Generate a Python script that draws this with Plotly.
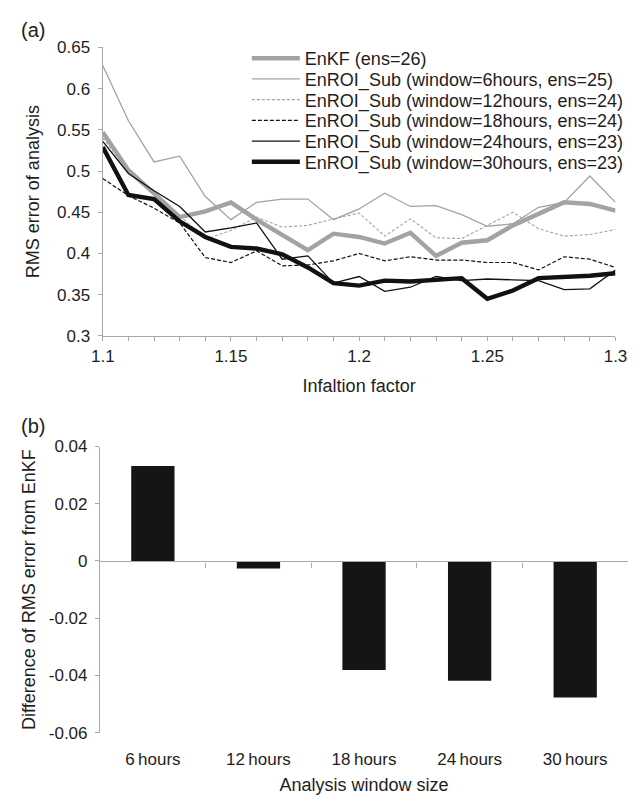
import plotly.graph_objects as go

# Inflation factors on the x axis of panel (a)
inflation = [1.10, 1.11, 1.12, 1.13, 1.14, 1.15, 1.16, 1.17, 1.18, 1.19, 1.20,
             1.21, 1.22, 1.23, 1.24, 1.25, 1.26, 1.27, 1.28, 1.29, 1.30]

# RMS error of analysis per experiment
enkf_26 = [0.547, 0.501, 0.473, 0.444, 0.451, 0.462, 0.441, 0.423, 0.404, 0.424, 0.420,
           0.412, 0.425, 0.397, 0.413, 0.416, 0.434, 0.448, 0.462, 0.460, 0.452]
sub_6h = [0.628, 0.561, 0.511, 0.518, 0.469, 0.441, 0.462, 0.466, 0.466, 0.441, 0.454,
          0.473, 0.457, 0.458, 0.447, 0.433, 0.436, 0.456, 0.462, 0.494, 0.462]
sub_12h = [0.540, 0.500, 0.472, 0.446, 0.417, 0.428, 0.444, 0.432, 0.434, 0.442, 0.449,
           0.421, 0.442, 0.419, 0.418, 0.434, 0.450, 0.430, 0.421, 0.423, 0.429]
sub_18h = [0.491, 0.470, 0.455, 0.437, 0.395, 0.389, 0.403, 0.385, 0.386, 0.391, 0.400,
           0.391, 0.396, 0.392, 0.392, 0.389, 0.389, 0.380, 0.396, 0.393, 0.383]
sub_24h = [0.536, 0.497, 0.476, 0.457, 0.426, 0.431, 0.437, 0.393, 0.397, 0.364, 0.372,
           0.354, 0.359, 0.372, 0.367, 0.369, 0.368, 0.367, 0.356, 0.357, 0.380]
sub_30h = [0.529, 0.471, 0.466, 0.439, 0.420, 0.408, 0.406, 0.399, 0.383, 0.364, 0.361,
           0.367, 0.366, 0.368, 0.370, 0.345, 0.355, 0.370, 0.371, 0.373, 0.376]

series_names = ["EnKF (ens=26)",
                "EnROI_Sub (window=6hours, ens=25)",
                "EnROI_Sub (window=12hours, ens=24)",
                "EnROI_Sub (window=18hours, ens=24)",
                "EnROI_Sub (window=24hours, ens=23)",
                "EnROI_Sub (window=30hours, ens=23)"]

# Panel (a) tick labels
x_tickvals = [1.10, 1.15, 1.20, 1.25, 1.30]
x_ticktext = ["1.1", "1.15", "1.2", "1.25", "1.3"]
y_tickvals = [0.30, 0.35, 0.40, 0.45, 0.50, 0.55, 0.60, 0.65]
y_ticktext = ["0.3", "0.35", "0.4", "0.45", "0.5", "0.55", "0.6", "0.65"]

# Panel (b): difference of RMS error from EnKF per analysis window
windows = ["6\u2009hours", "12\u2009hours", "18\u2009hours", "24\u2009hours", "30\u2009hours"]
rms_diff = [0.0332, -0.0026, -0.0381, -0.0419, -0.0477]
b_tickvals = [-0.06, -0.04, -0.02, 0.0, 0.02, 0.04]
b_ticktext = ["-0.06", "-0.04", "-0.02", "0", "0.02", "0.04"]

FONT = "Liberation Sans, Arial, Helvetica, sans-serif"
TXT = "#1e1e1e"
AX = "#a8a8a8"
GRAY = "#a3a3a3"
BLACK = "#111111"

W, H = 640, 812


def px_x(p):
    return p / W


def px_y(p):
    return 1 - p / H


styles = [
    dict(color=GRAY, width=4.4, dash="solid"),
    dict(color=GRAY, width=1.3, dash="solid"),
    dict(color=GRAY, width=1.1, dash="3px,2px"),
    dict(color=BLACK, width=1.2, dash="4px,2px"),
    dict(color=BLACK, width=1.3, dash="solid"),
    dict(color=BLACK, width=4.4, dash="solid"),
]
all_series = [enkf_26, sub_6h, sub_12h, sub_18h, sub_24h, sub_30h]
legend_ids = ["legend", "legend2", "legend3", "legend4", "legend5", "legend6"]

fig = go.Figure()
for name, vals, st, lg in zip(series_names, all_series, styles, legend_ids):
    fig.add_trace(go.Scatter(x=inflation, y=vals, name=name, mode="lines",
                             line=st, xaxis="x", yaxis="y", legend=lg))

cat_pos = list(range(len(windows)))
fig.add_trace(go.Bar(x=cat_pos, y=rms_diff, width=0.41, marker_color="#151515",
                     marker_line_width=0, showlegend=False,
                     xaxis="x2", yaxis="y2"))
# carrier for the zero-line axis with category-boundary ticks
fig.add_trace(go.Scatter(x=[], y=[], showlegend=False, hoverinfo="skip",
                         xaxis="x3", yaxis="y2"))

tick_font = dict(family=FONT, size=17, color=TXT)
title_font = dict(family=FONT, size=18, color=TXT)

# one legend box per row so the rows sit on a tight 21 px pitch
legend_boxes = {}
for i, lg in enumerate(legend_ids):
    legend_boxes[lg] = dict(x=px_x(244), y=px_y(50.7 + 21.2 * i),
                            xanchor="left", yanchor="middle",
                            bgcolor="rgba(0,0,0,0)", borderwidth=0,
                            font=dict(family=FONT, size=18, color=TXT),
                            itemwidth=48)

fig.update_layout(
    width=W, height=H,
    margin=dict(l=0, r=0, t=0, b=0),
    paper_bgcolor="white", plot_bgcolor="white",
    font=dict(family=FONT, size=16, color=TXT),
    showlegend=True,
    **legend_boxes,
    xaxis=dict(domain=[px_x(94.3), px_x(627)], range=[1.1, 1.3],
               tickvals=x_tickvals, ticktext=x_ticktext, ticks="outside",
               ticklen=4, tickcolor=AX, tickwidth=1, showline=True, linecolor=AX,
               linewidth=1.3, showgrid=False, zeroline=False, tickfont=tick_font,
               ticklabelstandoff=1,
               minor=dict(dtick=0.01, tick0=1.1, ticks="outside", ticklen=4,
                          tickcolor=AX, tickwidth=1, showgrid=False),
               title=dict(text="Infaltion factor", standoff=13, font=title_font),
               anchor="y"),
    yaxis=dict(domain=[px_y(334.7), px_y(39.3)], range=[0.3, 0.65],
               tickvals=y_tickvals, ticktext=y_ticktext, ticks="outside",
               ticklen=4, tickcolor=AX, tickwidth=1, showline=True, linecolor=AX,
               linewidth=1.3, showgrid=False, zeroline=False, tickfont=tick_font,
               ticklabelstandoff=4,
               title=dict(text="RMS error of analysis", standoff=12, font=title_font),
               anchor="x"),
    xaxis2=dict(domain=[px_x(91.5), 1.0], range=[-0.5, 4.5],
                tickvals=cat_pos, ticktext=windows, ticks="", showline=False,
                showgrid=False, zeroline=False, tickfont=tick_font,
                ticklabelstandoff=14,
                title=dict(text="Analysis window size", standoff=10, font=title_font),
                anchor="y2"),
    xaxis3=dict(domain=[px_x(91.5), 1.0], range=[-0.5, 4.5], overlaying="x2",
                tickvals=[0.5, 1.5, 2.5, 3.5], ticks="outside", ticklen=5,
                tickcolor=AX, tickwidth=1.2, showticklabels=False, showline=True,
                linecolor=AX, linewidth=1.3, showgrid=False, zeroline=False,
                anchor="free", position=px_y(565.6)),
    yaxis2=dict(domain=[px_y(741), px_y(448)], range=[-0.06, 0.04],
                tickvals=b_tickvals, ticktext=b_ticktext, ticks="outside",
                ticklen=4, tickcolor=AX, tickwidth=1, showline=True, linecolor=AX,
                linewidth=1.3, showgrid=False, zeroline=False, tickfont=tick_font,
                ticklabelstandoff=4,
                title=dict(text="Difference of RMS error from EnKF", standoff=8,
                           font=title_font),
                anchor="x2"),
    annotations=[
        dict(text="(a)", x=px_x(7), y=px_y(22), xref="paper", yref="paper",
             xanchor="left", yanchor="middle", showarrow=False,
             font=dict(family=FONT, size=20, color=TXT)),
        dict(text="(b)", x=px_x(7), y=px_y(427), xref="paper", yref="paper",
             xanchor="left", yanchor="middle", showarrow=False,
             font=dict(family=FONT, size=20, color=TXT)),
    ],
)

fig.write_html("out.html")
